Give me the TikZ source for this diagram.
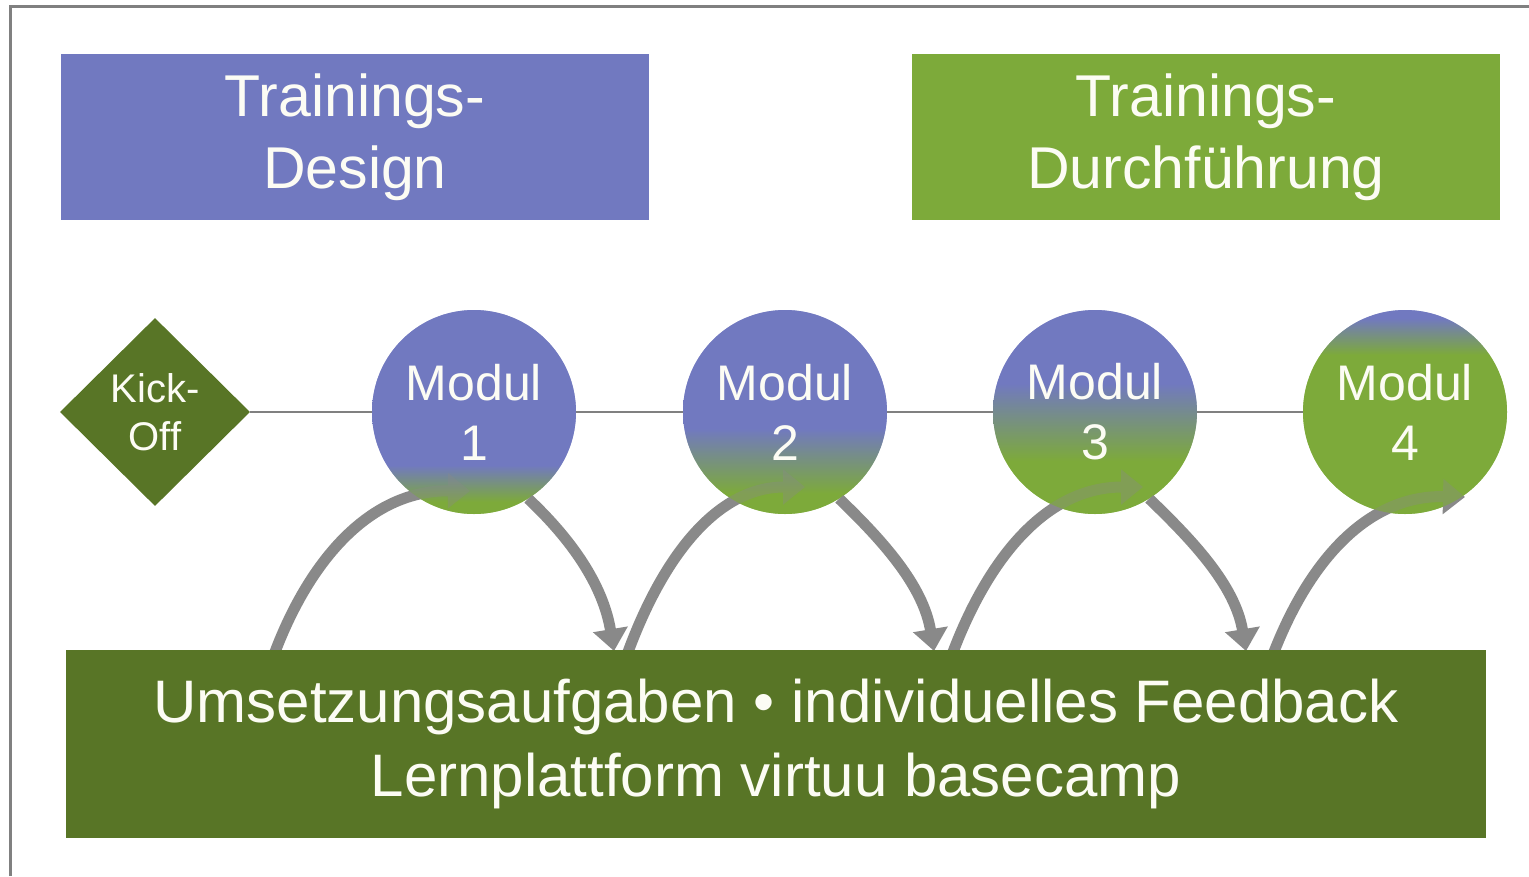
\documentclass[tikz,border=0pt]{standalone}
\usepackage{fontspec}
\setmainfont{Liberation Sans}
\usetikzlibrary{arrows.meta,shapes.geometric}
\definecolor{dblue}{RGB}{113,121,192}
\definecolor{lgreen}{RGB}{125,170,58}
\definecolor{dgreen}{RGB}{88,117,38}
\definecolor{arrgray}{RGB}{137,137,137}
\definecolor{linegray}{RGB}{128,128,128}
\definecolor{txt}{RGB}{252,252,244}
\pgfdeclareverticalshading{mshadeA}{100bp}{color(0bp)=(lgreen); color(28bp)=(lgreen); color(37bp)=(dblue); color(100bp)=(dblue)}
\pgfdeclareverticalshading{mshadeB}{100bp}{color(0bp)=(lgreen); color(30bp)=(lgreen); color(46bp)=(dblue); color(100bp)=(dblue)}
\pgfdeclareverticalshading{mshadeC}{100bp}{color(0bp)=(lgreen); color(38bp)=(lgreen); color(57bp)=(dblue); color(100bp)=(dblue)}
\pgfdeclareverticalshading{mshadeD}{100bp}{color(0bp)=(lgreen); color(64bp)=(lgreen); color(73bp)=(dblue); color(100bp)=(dblue)}
\pgfdeclarelayer{bg}
\pgfdeclarelayer{arr}
\pgfsetlayers{bg,arr,main}
\tikzset{
  hdr/.style={inner sep=0pt, minimum width=588pt, minimum height=166pt, text=txt, align=center,
    font=\fontsize{59pt}{72pt}\selectfont},
  modul/.style={circle, inner sep=0pt, minimum size=204pt, text=txt, align=center, shade,
    fill opacity=0.65, text opacity=1, font=\fontsize{50pt}{60pt}\selectfont},
  kick/.style={diamond, inner sep=0pt, minimum width=190pt, minimum height=188pt, fill=dgreen,
    text=txt, align=center, font=\fontsize{40pt}{48pt}\selectfont},
  basebox/.style={inner sep=0pt, minimum width=1420pt, minimum height=188pt, fill=dgreen, text=txt,
    align=center, font=\fontsize{60pt}{74pt}\selectfont},
  thinline/.style={draw=linegray, line width=1.5pt},
  bigarrow/.style={draw=arrgray, line width=11pt, -{Triangle[length=22pt,width=34pt]}}
}
\begin{document}
\begin{tikzpicture}[x=1pt,y=-1pt]
\useasboundingbox (0,0) rectangle (1529,876);
\begin{pgfonlayer}{bg}
  \fill[white] (0,0) rectangle (1529,876);
  \shade[shading=mshadeA] (474,412) circle[radius=102];
  \shade[shading=mshadeB] (785,412) circle[radius=102];
  \shade[shading=mshadeC] (1095,412) circle[radius=102];
  \shade[shading=mshadeD] (1405,412) circle[radius=102];
\end{pgfonlayer}
\draw[linegray, line width=3pt] (10,876) -- (10,6) -- (1529,6);

\node[hdr, fill=dblue] (td) at (355,137) {Trainings-\\Design};
\node[hdr, fill=lgreen] (tf) at (1206,137) {Trainings-\\Durchführung};

\node[kick] (k) at (155,412) {Kick-\\Off};
\node[modul, shading=mshadeA] (m1) at (474,412) {Modul\\1};
\node[modul, shading=mshadeB] (m2) at (785,412) {Modul\\2};
\node[modul, shading=mshadeC] (m3) at (1095,412) {Modul\\3};
\node[modul, shading=mshadeD] (m4) at (1405,412) {Modul\\4};

\node[basebox] (base) at (776,744) {Umsetzungsaufgaben • individuelles Feedback\\Lernplattform virtuu basecamp};

\draw[thinline] (k) -- (m1);
\draw[thinline] (m1) -- (m2);
\draw[thinline] (m2) -- (m3);
\draw[thinline] (m3) -- (m4);

\coordinate (u1) at (275,652);
\coordinate (u2) at (628,652);
\coordinate (u3) at (953,652);
\coordinate (u4) at (1274,652);
\coordinate (d1) at (614,651);
\coordinate (d2) at (934,651);
\coordinate (d3) at (1246,651);
\coordinate (e1) at (470,491);
\coordinate (e2) at (805,487);
\coordinate (e3) at (1143,487);
\coordinate (e4) at (1465,497);

\begin{pgfonlayer}{arr}
  \draw[bigarrow] (u1) .. controls (310,560) and (370,490) .. (e1);
  \draw[bigarrow] (m1.-58) .. controls (572,540) and (603,585) .. (d1);
  \draw[bigarrow] (u2) .. controls (662,560) and (715,487) .. (e2);
  \draw[bigarrow] (m2.-58) .. controls (882,540) and (923,585) .. (d2);
  \draw[bigarrow] (u3) .. controls (988,560) and (1045,487) .. (e3);
  \draw[bigarrow] (m3.-58) .. controls (1192,540) and (1235,585) .. (d3);
  \draw[bigarrow] (u4) .. controls (1310,560) and (1368,495) .. (e4);
\end{pgfonlayer}
\end{tikzpicture}
\end{document}
